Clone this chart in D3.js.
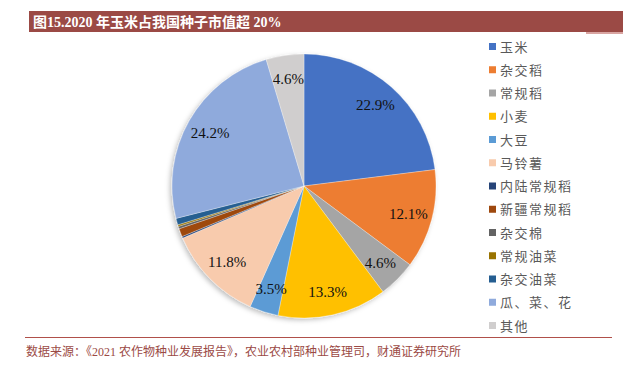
<!DOCTYPE html>
<html>
<head>
<meta charset="utf-8">
<script src="https://cdn.jsdelivr.net/npm/d3@7"></script>
<style>
  body { margin: 0; background: #fff; }
  svg text { font-family: "Liberation Serif", "Noto Sans CJK SC", serif; }
</style>
</head>
<body>
<div id="chart"></div>
<script>
// Seed market value shares, 2020 (%)
var categories = ["玉米", "杂交稻", "常规稻", "小麦", "大豆", "马铃薯", "内陆常规稻",
                  "新疆常规稻", "杂交棉", "常规油菜", "杂交油菜", "瓜、菜、花", "其他"];
var shares = [22.9, 12.1, 4.6, 13.3, 3.5, 11.8, 0.2, 1.0, 0.3, 0.2, 0.8, 24.2, 4.6];
var colors = ["#4472C4", "#ED7D31", "#A5A5A5", "#FFC000", "#5B9BD5", "#F8CBAD", "#264478",
              "#9E480E", "#636363", "#997300", "#255E91", "#8FAADC", "#D0CECE"];
var labelMin = 2; // small slices carry no label

var width = 631, height = 365;
var cx = 304, cy = 186, radius = 132;

var svg = d3.select("#chart").append("svg")
    .attr("width", width)
    .attr("height", height);

// title bar
svg.append("rect")
   .attr("x", 29).attr("y", 11).attr("width", 594).attr("height", 21)
   .attr("fill", "#9B4A45");
svg.append("rect")
   .attr("x", 586).attr("y", 32).attr("width", 37).attr("height", 2)
   .attr("fill", "#D9A5A2");
svg.append("text")
   .attr("x", 33).attr("y", 27)
   .attr("fill", "#fff")
   .attr("font-size", 14)
   .attr("font-weight", "bold")
   .text("图15.2020 年玉米占我国种子市值超 20%");

// shadow for pie
var defs = svg.append("defs");
var f = defs.append("filter").attr("id", "shadow")
    .attr("x", "-20%").attr("y", "-20%").attr("width", "140%").attr("height", "140%");
f.append("feDropShadow")
 .attr("dx", -2).attr("dy", 2).attr("stdDeviation", 2.5)
 .attr("flood-color", "#000").attr("flood-opacity", 0.25);

var pie = d3.pie().sort(null).value(function(d) { return d; });
var arcs = pie(shares);

var arc = d3.arc().innerRadius(0).outerRadius(radius);
var labelArc = d3.arc().innerRadius(108).outerRadius(108);

var g = svg.append("g").attr("transform", "translate(" + cx + "," + cy + ")");

g.append("g")
 .attr("filter", "url(#shadow)")
 .selectAll("path")
 .data(arcs)
 .enter()
 .append("path")
 .attr("d", arc)
 .attr("fill", function(d, i) { return colors[i]; })
 .attr("stroke", "#fff")
 .attr("stroke-width", 0.3);

g.append("g")
 .selectAll("text")
 .data(arcs.filter(function(d) { return d.data >= labelMin; }))
 .enter()
 .append("text")
 .attr("transform", function(d) { return "translate(" + labelArc.centroid(d) + ")"; })
 .attr("text-anchor", "middle")
 .attr("dy", "0.35em")
 .attr("font-size", 15)
 .attr("fill", "#111")
 .text(function(d) { return d3.format(".1f")(d.data) + "%"; });

// legend
var legendY = d3.scalePoint().domain(categories).range([47, 326]);
var legend = svg.append("g")
    .selectAll("g")
    .data(categories)
    .enter()
    .append("g")
    .attr("transform", function(d) { return "translate(489," + legendY(d) + ")"; });

legend.append("rect")
      .attr("x", 0).attr("y", -4).attr("width", 7).attr("height", 7)
      .attr("fill", function(d, i) { return colors[i]; });
legend.append("text")
      .attr("x", 11).attr("y", 0)
      .attr("dy", "0.36em")
      .attr("font-size", 13)
      .attr("fill", "#595959")
      .attr("letter-spacing", 1.5)
      .text(function(d) { return d; });

// footer
svg.append("line")
   .attr("x1", 25).attr("x2", 612).attr("y1", 337.5).attr("y2", 337.5)
   .attr("stroke", "#B0504A").attr("stroke-width", 1);
svg.append("text")
   .attr("x", 26).attr("y", 356)
   .attr("font-size", 12)
   .attr("fill", "#9B4A45")
   .text("数据来源：《2021 农作物种业发展报告》，农业农村部种业管理司，财通证券研究所");
</script>
</body>
</html>
